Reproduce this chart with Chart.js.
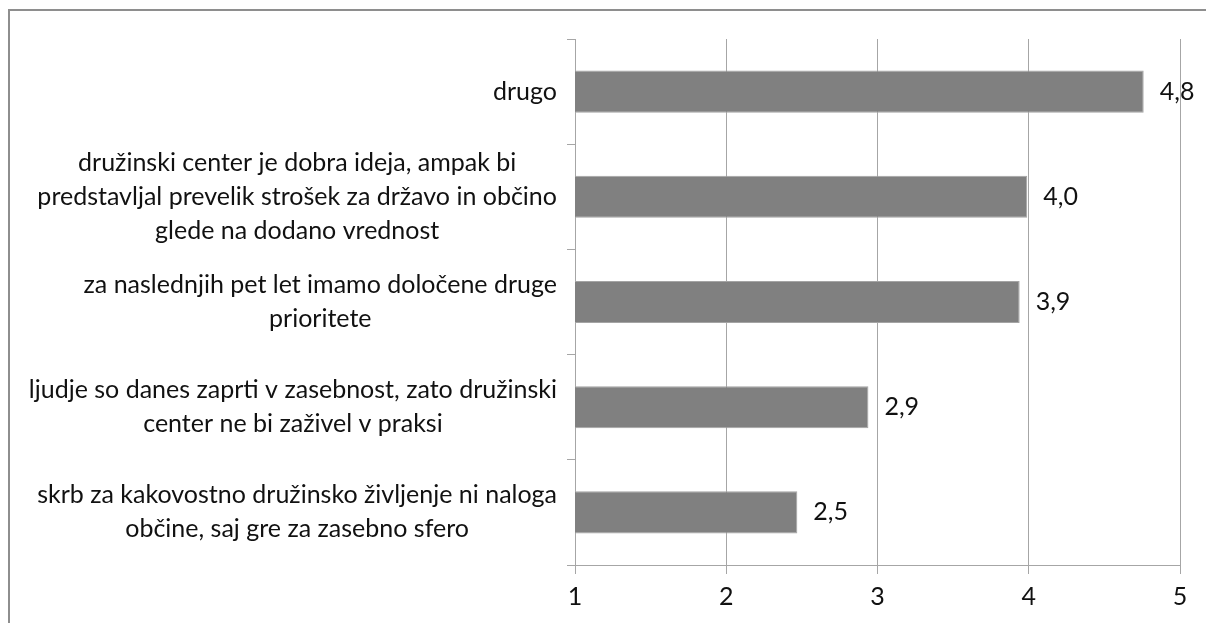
<!DOCTYPE html>
<html>
<head>
<meta charset="utf-8">
<script src="https://cdn.jsdelivr.net/npm/chart.js@4.4.1/dist/chart.umd.min.js"></script>
<style>
    html, body { margin: 0; padding: 0; background: #fff; overflow: hidden; }
    #frame { position: absolute; left: 8px; top: 9px; width: 1300px; height: 700px; border: 2px solid #8e8e8e; }
    #wrap { position: absolute; left: 0; top: 0; width: 1206px; height: 623px; }
</style>
</head>
<body>
<div id="frame"></div>
<div id="wrap"><canvas id="chart-reasons" width="1206" height="623"></canvas></div>
<script>
// categories, top to bottom (each one already split into its lines)
const categories = [
    ["drugo"],
    ["družinski center je dobra ideja, ampak bi", "predstavljal prevelik strošek za državo in občino", "glede na dodano vrednost"],
    ["za naslednjih pet let imamo določene druge", "prioritete"],
    ["ljudje so danes zaprti v zasebnost, zato družinski", "center ne bi zaživel v praksi"],
    ["skrb za kakovostno družinsko življenje ni naloga", "občine, saj gre za zasebno sfero"]
];
const values = [4.76, 3.99, 3.94, 2.94, 2.47];
const tickValues = [1, 2, 3, 4, 5];

const FONT = "Lato";
const FONT_SIZE = 25;

// draws the wrapped category labels: block right aligned, lines centered
const categoryLabels = {
    id: 'categoryLabels',
    afterDraw(chart) {
        const ctx = chart.ctx;
        const yScale = chart.scales.y;
        const right = chart.chartArea.left - 18;
        ctx.save();
        ctx.font = FONT_SIZE + "px " + FONT;
        ctx.fillStyle = "#111";
        ctx.textAlign = "center";
        ctx.textBaseline = "middle";
        const lineH = 34;
        categories.forEach((lines, i) => {
            let w = 0;
            lines.forEach(l => { w = Math.max(w, ctx.measureText(l).width); });
            const cx = right - w / 2;
            const cy = yScale.getPixelForValue(i);
            lines.forEach((l, j) => {
                ctx.fillText(l, cx, cy + (j - (lines.length - 1) / 2) * lineH);
            });
        });
        ctx.restore();
    }
};

// value labels at the end of each bar, decimal comma
const valueLabels = {
    id: 'valueLabels',
    afterDatasetsDraw(chart) {
        const ctx = chart.ctx;
        const meta = chart.getDatasetMeta(0);
        ctx.save();
        ctx.font = FONT_SIZE + "px " + FONT;
        ctx.fillStyle = "#111";
        ctx.textAlign = "left";
        ctx.textBaseline = "middle";
        meta.data.forEach((bar, i) => {
            ctx.fillText(values[i].toFixed(1).replace('.', ','), bar.x + 16, bar.y);
        });
        ctx.restore();
    }
};

const element = document.getElementById("chart-reasons");
const chart = new Chart(element, {
    type: 'bar',
    data: {
        labels: categories.map(c => c.join(' ')),
        datasets: [{
            data: values,
            backgroundColor: '#808080',
            borderColor: '#a4a4a4',
            borderWidth: 1,
            borderSkipped: false,
            barPercentage: 0.4,
            categoryPercentage: 1.0
        }]
    },
    options: {
        responsive: false,
        animation: false,
        indexAxis: 'y',
        layout: { padding: { top: 39, right: 26, left: 0, bottom: 0 } },
        plugins: {
            legend: { display: false },
            tooltip: { enabled: false }
        },
        scales: {
            x: {
                min: 1,
                max: 5,
                afterBuildTicks: (scale) => { scale.ticks = tickValues.map(v => ({ value: v })); },
                afterFit: (scale) => { scale.height = 623 - 565; },
                grid: { color: '#a6a6a6', lineWidth: 1, tickLength: 9, drawTicks: true },
                border: { color: '#a6a6a6', width: 1 },
                ticks: {
                    font: { family: FONT, size: FONT_SIZE },
                    color: '#111',
                    padding: 8
                }
            },
            y: {
                afterFit: (scale) => { scale.width = 575; },
                grid: { drawOnChartArea: false, drawTicks: true, tickLength: 8, offset: true, color: '#a6a6a6' },
                border: { color: '#a6a6a6', width: 1 },
                ticks: { display: false }
            }
        }
    },
    plugins: [categoryLabels, valueLabels]
});
</script>
</body>
</html>
